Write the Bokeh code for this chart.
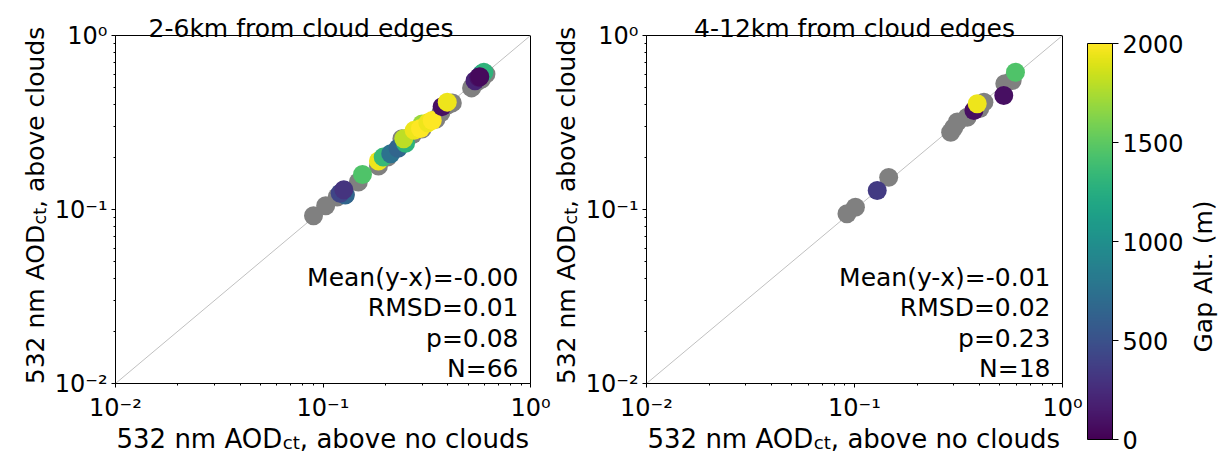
import numpy as np
from bokeh.plotting import figure
from bokeh.models import (FixedTicker, CustomJSTickFormatter, Label, LinearColorMapper,
                          Range1d, ColumnDataSource)
from bokeh.palettes import Viridis256
from bokeh.layouts import row
from bokeh.embed import file_html
from bokeh.resources import INLINE

# ---------------- data ----------------
titles = ["2-6km from cloud edges", "4-12km from cloud edges"]
stats_left = ["Mean(y-x)=-0.00", "RMSD=0.01", "p=0.08", "N=66"]
stats_right = ["Mean(y-x)=-0.01", "RMSD=0.02", "p=0.23", "N=18"]
x_label_parts = ["532 nm AOD", "ct", ", above no clouds"]
y_label_parts = ["532 nm AOD", "ct", ", above clouds"]
cbar_label = "Gap Alt. (m)"

# left panel (2-6 km): grey points (underneath) and coloured points
left_gray_x = [0.090, 0.103, 0.117, 0.128, 0.148, 0.185, 0.205, 0.240, 0.270, 0.300,
               0.350, 0.370, 0.400, 0.420, 0.520, 0.550, 0.580, 0.610]
left_gray_y = [0.092, 0.105, 0.118, 0.122, 0.144, 0.178, 0.200, 0.255, 0.270, 0.290,
               0.330, 0.360, 0.400, 0.410, 0.500, 0.540, 0.560, 0.600]
left_col_x = [0.128, 0.121, 0.126, 0.155, 0.185, 0.195, 0.212, 0.230, 0.250, 0.245,
              0.300, 0.275, 0.295, 0.320, 0.336, 0.375, 0.397, 0.580, 0.596, 0.540,
              0.563, 0.570]
left_col_y = [0.121, 0.124, 0.130, 0.159, 0.190, 0.200, 0.209, 0.225, 0.240, 0.255,
              0.310, 0.285, 0.292, 0.315, 0.325, 0.390, 0.414, 0.600, 0.615, 0.550,
              0.576, 0.580]
left_col_alt = [650, 420, 300, 1450, 1950, 1350, 750, 650, 1300, 1800,
                1700, 1950, 2000, 1950, 2000, 80, 1950, 900, 1300, 200,
                100, 50]

# right panel (4-12 km)
right_gray_x = [0.092, 0.101, 0.146, 0.290, 0.300, 0.312, 0.348, 0.400, 0.419, 0.528, 0.573]
right_gray_y = [0.0945, 0.103, 0.153, 0.278, 0.295, 0.318, 0.339, 0.380, 0.414, 0.528, 0.551]
right_col_x = [0.1286, 0.375, 0.389, 0.522, 0.594]
right_col_y = [0.1286, 0.371, 0.405, 0.452, 0.615]
right_col_alt = [350, 80, 1950, 80, 1450]

axis_limits = [0.01, 1.0]
one_to_one = [0.01, 1.0]
major_ticks = [0.01, 0.1, 1.0]
minor_ticks = [0.02, 0.03, 0.04, 0.05, 0.06, 0.07, 0.08, 0.09,
               0.2, 0.3, 0.4, 0.5, 0.6, 0.7, 0.8, 0.9]
cbar_ticks = [0, 500, 1000, 1500, 2000]
alt_low, alt_high = 0, 2000

# ---------------- layout / styling ----------------
FONT = "DejaVu Sans"
TICK_FS = "24px"
XLAB_FS = 26
YLAB_FS = 25
TITLE_FS = "25px"
STAT_FS = "25px"
H = 454
MS = 19
BOX_TOP, BOX_BOTTOM = 35, 383            # panel box, pixels from top

ADV = {" ": 651, ",": 651, "5": 1303, "3": 1303, "2": 1303, "n": 1298, "m": 1995,
       "A": 1401, "O": 1612, "D": 1577, "c": 1126, "t": 803, "a": 1255, "b": 1300,
       "o": 1253, "v": 1212, "e": 1260, "l": 569, "u": 1298, "d": 1300, "s": 1067}


def tw(s, size):
    return sum(ADV.get(ch, 1250) for ch in s) / 2048.0 * size


def log_range(a, b, total):
    """log range whose decades 1e-2..1e0 land on pixels a..b of a frame of size total"""
    per = 2.0 / (b - a)
    return Range1d(10 ** (-2 - a * per), 10 ** (0 + (total - b) * per))


def log_range_y(top, bottom, total):
    per = 2.0 / (bottom - top)
    return Range1d(10 ** (-2 - (total - bottom) * per), 10 ** (top * per))


mapper = LinearColorMapper(palette=Viridis256, low=alt_low, high=alt_high)

fmt = CustomJSTickFormatter(code="""
const sup = {"-": "\\u207b", "0": "\\u2070", "1": "\\u00b9", "2": "\\u00b2", "3": "\\u00b3"};
const e = Math.round(Math.log10(tick));
return "10" + String(e).split("").map(c => sup[c]).join("");
""")


def lab(text, x, y, size, **kw):
    return Label(x=x, y=y, text=text, text_font=FONT, text_font_size=size,
                 text_color="black", **kw)


def add_xlabel(p):
    fs, sub = XLAB_FS, XLAB_FS * 0.7
    x0, base = 1, -55
    w1 = tw(x_label_parts[0], fs)
    w2 = tw(x_label_parts[1], sub)
    lo = axis_limits[0]
    p.add_layout(lab(x_label_parts[0], lo, lo, f"{fs}px", x_offset=x0, y_offset=base,
                     text_align="left", text_baseline="alphabetic"))
    p.add_layout(lab(x_label_parts[1], lo, lo, f"{sub:.1f}px", x_offset=x0 + w1, y_offset=base - 4,
                     text_align="left", text_baseline="alphabetic"))
    p.add_layout(lab(x_label_parts[2], lo, lo, f"{fs}px", x_offset=x0 + w1 + w2, y_offset=base,
                     text_align="left", text_baseline="alphabetic"))


def add_ylabel(p, anchor_x, dx):
    fs, sub = YLAB_FS, YLAB_FS * 0.7
    w1 = tw(y_label_parts[0], fs)
    w2 = tw(y_label_parts[1], sub)
    w3 = tw(y_label_parts[2], fs)
    start = (BOX_BOTTOM - BOX_TOP - (w1 + w2 + w3)) / 2.0 + 4
    a = np.pi / 2
    lo = axis_limits[0]
    p.add_layout(lab(y_label_parts[0], anchor_x, lo, f"{fs}px", angle=a,
                     x_offset=dx, y_offset=start, text_align="left", text_baseline="alphabetic"))
    p.add_layout(lab(y_label_parts[1], anchor_x, lo, f"{sub:.1f}px", angle=a,
                     x_offset=dx + 4, y_offset=start + w1, text_align="left", text_baseline="alphabetic"))
    p.add_layout(lab(y_label_parts[2], anchor_x, lo, f"{fs}px", angle=a,
                     x_offset=dx, y_offset=start + w1 + w2, text_align="left", text_baseline="alphabetic"))


def style_axis(ax):
    ax.ticker = FixedTicker(ticks=major_ticks, minor_ticks=minor_ticks)
    ax.formatter = fmt
    ax.fixed_location = axis_limits[0]
    ax.bounds = tuple(axis_limits)
    ax.major_label_text_font = FONT
    ax.major_label_text_font_size = TICK_FS
    ax.major_label_text_color = "black"
    ax.axis_line_color = "black"
    ax.major_tick_line_color = "black"
    ax.minor_tick_line_color = "black"
    ax.major_tick_out = 4
    ax.major_tick_in = 0
    ax.minor_tick_out = 2
    ax.minor_tick_in = 0


def make_panel(width, box_left, box_right, gx, gy, cx, cy, calt, title, title_dx, stats):
    p = figure(width=width, height=H, x_axis_type="log", y_axis_type="log",
               x_range=log_range(box_left, box_right, width),
               y_range=log_range_y(BOX_TOP, BOX_BOTTOM, H),
               min_border=0, title_location=None,
               toolbar_location=None, output_backend="svg")
    p.grid.visible = False
    p.outline_line_color = None
    style_axis(p.xaxis[0])
    style_axis(p.yaxis[0])
    p.xaxis[0].major_label_standoff = 6
    p.yaxis[0].major_label_standoff = 4
    # panel box
    p.quad(left=axis_limits[0], right=axis_limits[1], bottom=axis_limits[0], top=axis_limits[1],
           fill_color=None, line_color="black", line_width=1)
    p.line(one_to_one, one_to_one, line_color="#c0c0c0", line_width=1)
    p.scatter(gx, gy, size=MS, fill_color="#808080", line_color=None)
    src = ColumnDataSource(dict(x=cx, y=cy, alt=calt))
    p.scatter("x", "y", source=src, size=MS,
              fill_color={"field": "alt", "transform": mapper}, line_color=None)
    p.add_layout(lab(title, 0.1, axis_limits[1], TITLE_FS, x_offset=title_dx, y_offset=7,
                     text_align="center", text_baseline="alphabetic"))
    for i, s in enumerate(reversed(stats)):
        p.add_layout(lab(s, axis_limits[1], axis_limits[0], STAT_FS, x_offset=-12,
                         y_offset=15 + 30.5 * i, text_align="right", text_baseline="alphabetic"))
    add_xlabel(p)
    return p


W1, W2, W3 = 580, 505, 135
p1 = make_panel(W1, 115, 530, left_gray_x, left_gray_y, left_col_x, left_col_y,
                left_col_alt, titles[0], -22, stats_left)
add_ylabel(p1, axis_limits[0], -80)
add_ylabel(p1, axis_limits[1], 36)   # y label of the right panel (sits in the gap)

p2 = make_panel(W2, 646 - W1, 1062 - W1, right_gray_x, right_gray_y, right_col_x, right_col_y,
                right_col_alt, titles[1], 0, stats_right)

# colour bar as its own small figure (frame = whole canvas)
CB_L, CB_R = 2, 27           # bar pixels inside its canvas
CB_T, CB_B = 43, 439
per_x = 1.0 / (CB_R - CB_L)
per_y = (alt_high - alt_low) / (CB_B - CB_T)
cb = figure(width=W3, height=H,
            x_range=Range1d(0 - CB_L * per_x, 1 + (W3 - CB_R) * per_x),
            y_range=Range1d(alt_low - (H - CB_B) * per_y, alt_high + CB_T * per_y),
            min_border=0, title_location=None, x_axis_location=None, y_axis_location="right",
            toolbar_location=None, output_backend="svg")
cb.grid.visible = False
cb.outline_line_color = None
grad = np.linspace(alt_low, alt_high, 256).reshape(256, 1)
cb.image(image=[grad], x=0, y=alt_low, dw=1, dh=alt_high - alt_low, color_mapper=mapper)
cb.quad(left=0, right=1, bottom=alt_low, top=alt_high, fill_color=None, line_color="black")
ya = cb.yaxis[0]
ya.fixed_location = 1
ya.bounds = (alt_low, alt_high)
ya.ticker = FixedTicker(ticks=cbar_ticks)
ya.major_label_text_font = FONT
ya.major_label_text_font_size = TICK_FS
ya.major_label_text_color = "black"
ya.axis_line_color = "black"
ya.major_tick_out = 6
ya.major_tick_in = 0
ya.minor_tick_out = 0
ya.minor_tick_in = 0
ya.major_label_standoff = 4
cb.add_layout(lab(cbar_label, 1, 1000, f"{YLAB_FS}px", angle=np.pi / 2, x_offset=91, y_offset=-35,
                  text_align="center", text_baseline="alphabetic"))

layout = row(p1, p2, cb)
open("out.html", "w", encoding="utf-8").write(file_html(layout, INLINE))
